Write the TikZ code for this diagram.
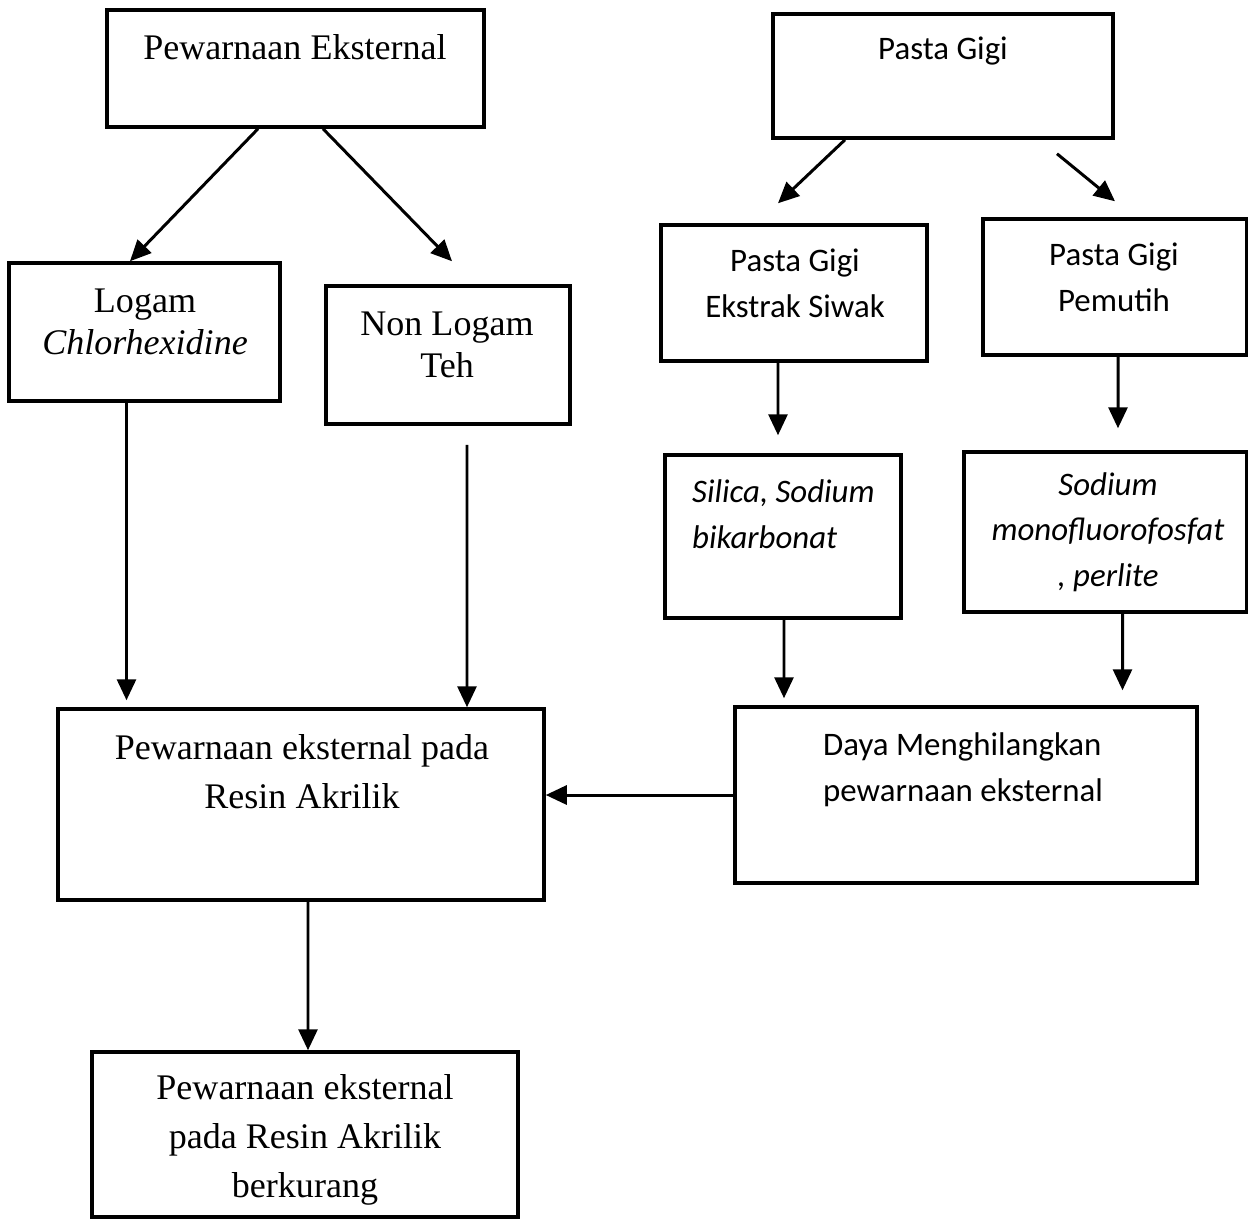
\documentclass[tikz,border=0pt]{standalone}
\usepackage{fontspec}
\setmainfont{Liberation Serif}
\newfontfamily\calibri{Carlito}
\usetikzlibrary{arrows.meta}

\begin{document}
\begin{tikzpicture}[x=0.2mm, y=-0.2mm,
  box/.style={draw, line width=2pt, inner sep=0pt},
  serif/.style={align=center, font=\fontsize{20.5}{28}\selectfont},
  sans/.style={align=center, font=\calibri\fontsize{18.7}{26}\selectfont},
  arr/.style={line width=1.7pt, -{Triangle[length=4.2mm,width=3.8mm]}}]
  \useasboundingbox (0,0) rectangle (1248,1222);

  % boxes
  \node[box, minimum width=75.4mm, minimum height=23.4mm] (pe) at (295.5,68.5) {};
  \node[box, minimum width=68mm, minimum height=24.8mm] (pasta) at (943,76) {};
  \node[box, minimum width=54.2mm, minimum height=27.6mm] (logam) at (144.5,332) {};
  \node[box, minimum width=48.8mm, minimum height=27.6mm] (nonlogam) at (448,355) {};
  \node[box, minimum width=53.2mm, minimum height=27.2mm] (siwak) at (794,293) {};
  \node[box, minimum width=52.8mm, minimum height=27.2mm] (pemutih) at (1115,287) {};
  \node[box, minimum width=47.2mm, minimum height=32.6mm] (silica) at (783,536.5) {};
  \node[box, minimum width=56.6mm, minimum height=32mm] (mono) at (1105.5,532) {};
  \node[box, minimum width=97.2mm, minimum height=38.2mm] (resin) at (301,804.5) {};
  \node[box, minimum width=92.4mm, minimum height=35.2mm] (daya) at (966,795) {};
  \node[box, minimum width=85.2mm, minimum height=33mm] (kurang) at (305,1134.5) {};

  % texts
  \node[serif] (pe text) at (295,47) {Pewarnaan Eksternal};
  \node[sans] (pasta text) at (943,51) {Pasta Gigi};
  \node[serif] (logam text) at (145,322) {Logam\\[-4pt]\textit{Chlorhexidine}};
  \node[serif] (nonlogam text) at (447,345) {Non Logam\\[-4pt]Teh};
  \node[sans] (siwak text) at (795,283) {Pasta Gigi\\Ekstrak Siwak};
  \node[sans] (pemutih text) at (1114,277) {Pasta Gigi\\Pemutih};
  \node[sans, align=left, anchor=west] (silica text) at (686,514)
    {\textit{Silica, Sodium}\\\textit{bikarbonat}};
  \node[sans] (mono text) at (1108,532)
    {\textit{Sodium}\\\textit{monofluorofosfat}\\\textit{, perlite}};
  \node[serif] (resin text) at (302,772) {Pewarnaan eksternal pada\\Resin Akrilik};
  \node[sans, align=left, anchor=west] (daya text) at (817,770)
    {Daya Menghilangkan\\pewarnaan eksternal};
  \node[serif] (kurang text) at (305,1140)
    {Pewarnaan eksternal\\pada Resin Akrilik\\berkurang};

  % arrows
  \draw[arr] ([xshift=-7.5mm]pe.south) -- ([xshift=-2.9mm]logam.north);
  \draw[arr] ([xshift=5.5mm]pe.south) -- ([xshift=0.8mm,yshift=4.6mm]nonlogam.north);
  \draw[arr] ([xshift=-19.6mm]pasta.south) -- ([xshift=-3.2mm,yshift=4mm]siwak.north);
  \draw[arr] ([xshift=22.8mm,yshift=-2.8mm]pasta.south) -- ([yshift=3.2mm]pemutih.north);
  \draw[arr] ([xshift=-3.2mm]siwak.south) -- ([xshift=-1mm,yshift=3.6mm]silica.north);
  \draw[arr] ([xshift=0.6mm]pemutih.south) -- ([xshift=2.5mm,yshift=4.4mm]mono.north);
  \draw[arr] ([xshift=-3.6mm]logam.south) -- ([xshift=-34.9mm,yshift=1.4mm]resin.north);
  \draw[arr] ([xshift=3.8mm,yshift=-3.8mm]nonlogam.south) -- ([xshift=33.2mm]resin.north);
  \draw[arr] ([xshift=0.2mm]silica.south) -- ([xshift=-36.4mm,yshift=1.4mm]daya.north);
  \draw[arr] ([xshift=3.4mm]mono.south) -- ([xshift=31.3mm,yshift=3mm]daya.north);
  \draw[arr] (daya.west) -- (resin.east |- daya.west);
  \draw[arr] ([xshift=1.4mm]resin.south) -- ([xshift=0.6mm]kurang.north);

\end{tikzpicture}
\end{document}
